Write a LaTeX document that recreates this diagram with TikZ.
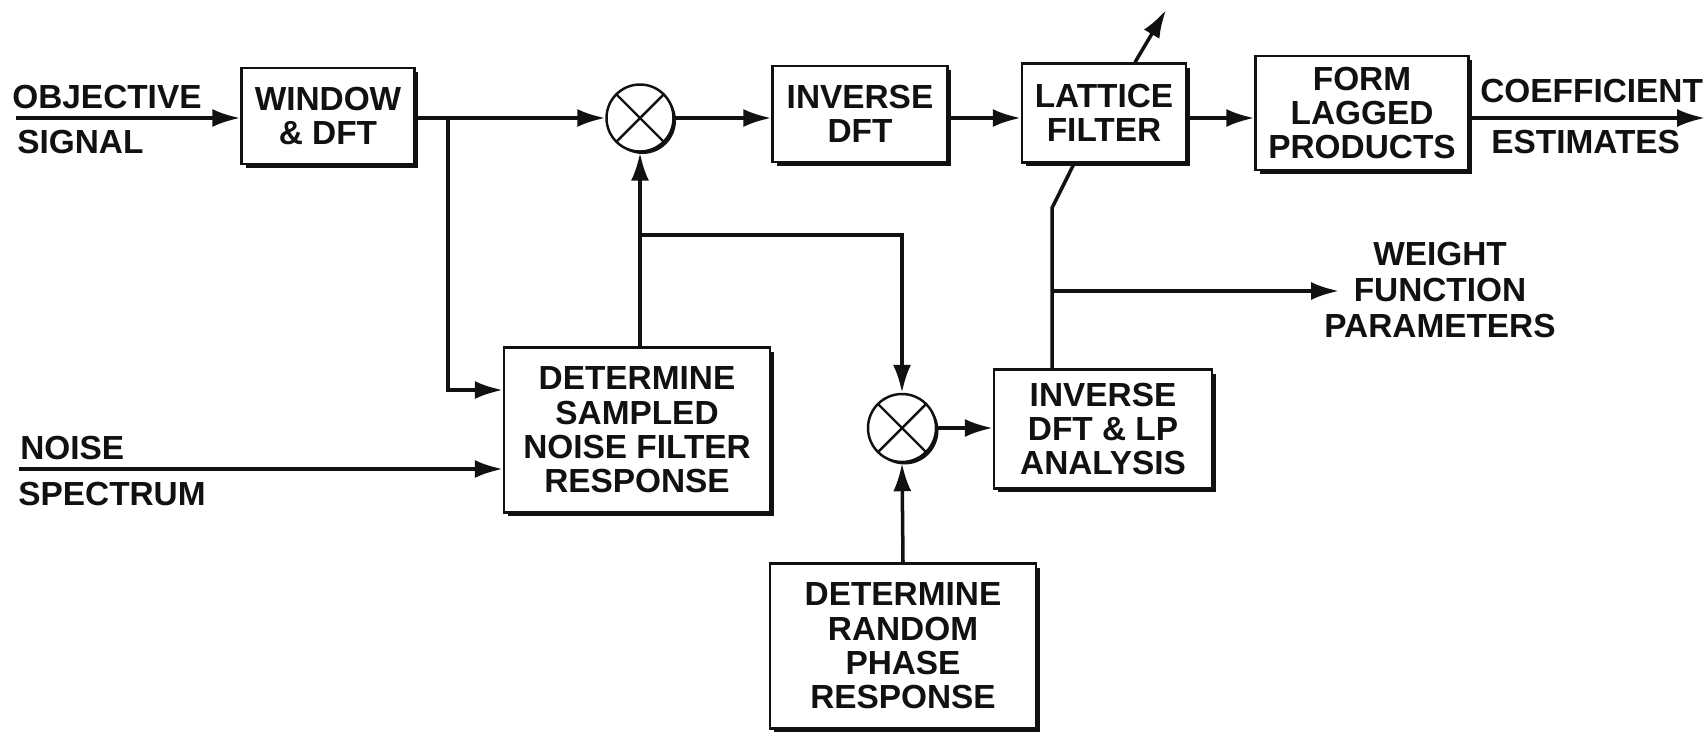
\documentclass[tikz,border=0pt]{standalone}
\usepackage{fontspec}
\setmainfont{Liberation Sans}
\usetikzlibrary{arrows.meta,shadows}
\definecolor{Ink}{HTML}{111111}
\definecolor{Paper}{HTML}{FFFFFF}
\tikzset{
  flowarrow/.style={-{Latex[length=5.6mm,width=3.6mm]},line width=2pt,draw=Ink},
  wire/.style={line width=2pt,draw=Ink},
  blockbase/.style={rectangle,align=center,inner sep=0pt,line width=1.4pt,draw=Ink,fill=Paper,text=Ink,
    font=\fontsize{19}{19.6}\selectfont\bfseries,
    general shadow={fill=Ink,shadow xshift=0.8mm,shadow yshift=-0.8mm}},
  mixer/.style={circle,inner sep=0pt,line width=1.4pt,draw=Ink,fill=Paper,
    general shadow={fill=Ink,shadow xshift=0.5mm,shadow yshift=-0.5mm},
    path picture={\draw[line width=1.4pt,Ink] (path picture bounding box.north west) -- (path picture bounding box.south east)
      (path picture bounding box.north east) -- (path picture bounding box.south west);}},
  sigtext/.style={anchor=base west,inner sep=0pt,text=Ink,font=\fontsize{19}{19.6}\selectfont\bfseries},
}
\begin{document}
\begin{tikzpicture}[x=0.02cm,y=-0.02cm]
    \useasboundingbox[fill=Paper] (0,0) rectangle (1707,734);

    \node[blockbase,minimum width=3.46cm,minimum height=1.92cm] (window) at (328,116) {WINDOW\\\& DFT};
    \node[mixer,minimum size=1.34cm] (mulA) at (640,118) {};
    \node[blockbase,minimum width=3.5cm,minimum height=1.92cm] (invdft) at (860,114) {INVERSE\\DFT};
    \node[blockbase,minimum width=3.28cm,minimum height=1.98cm] (lattice) at (1104,113) {LATTICE\\FILTER};
    \node[blockbase,minimum width=4.26cm,minimum height=2.28cm] (form) at (1362,113) {FORM\\LAGGED\\PRODUCTS};
    \node[blockbase,minimum width=5.32cm,minimum height=3.3cm] (sampled) at (637,430) {DETERMINE\\SAMPLED\\NOISE FILTER\\RESPONSE};
    \node[mixer,minimum size=1.36cm] (mulB) at (902,428) {};
    \node[blockbase,minimum width=4.36cm,minimum height=2.38cm] (invlp) at (1103,429) {INVERSE\\DFT \& LP\\ANALYSIS};
    \node[blockbase,minimum width=5.32cm,minimum height=3.3cm] (random) at (903,646) {DETERMINE\\RANDOM\\PHASE\\RESPONSE};

    \node[sigtext] (objective) at (12,108) {OBJECTIVE};
    \node[sigtext] (signal) at (17,153) {SIGNAL};
    \node[sigtext] (noise) at (20,459) {NOISE};
    \node[sigtext] (spectrum) at (18,505) {SPECTRUM};
    \node[sigtext] (coeff) at (1480,102) {COEFFICIENT};
    \node[sigtext] (estim) at (1491,153) {ESTIMATES};
    \node[align=center,inner sep=0pt,text=Ink,font=\fontsize{19}{20.5}\selectfont\bfseries] (weight) at (1440,290) {WEIGHT\\FUNCTION\\PARAMETERS};

    \coordinate (objin) at (16,118);
    \coordinate (noisein) at (19,469);
    \coordinate (coefout) at (1705,118);
    \coordinate (br1) at (448,118);
    \coordinate (br2) at (640,235);
    \coordinate (kink) at (1052,208);
    \coordinate (wbr) at (1052,291);
    \coordinate (wend) at (1339,291);
    \coordinate (adapt) at (1166,10);

    \draw[flowarrow] (objin) -- (objin -| window.west);
    \draw[flowarrow] (window.east |- mulA) -- (mulA);
    \draw[flowarrow] (mulA) -- (mulA -| invdft.west);
    \draw[flowarrow] (invdft.east |- mulA) -- (mulA -| lattice.west);
    \draw[flowarrow] (lattice.east |- mulA) -- (mulA -| form.west);
    \draw[flowarrow] (form.east |- mulA) -- (coefout);
    \draw[flowarrow] (br1) |- ([yshift=0.8cm]sampled.west);
    \draw[flowarrow] (noisein) -- (noisein -| sampled.west);
    \draw[flowarrow] (sampled.north -| mulA) -- (mulA);
    \draw[flowarrow] (br2) -| (mulB);
    \draw[flowarrow] (random.north) -- (mulB.south);
    \draw[flowarrow] (mulB) -- (mulB -| invlp.west);
    \draw[wire] (kink |- invlp.north) -- (kink) -- ([xshift=-0.6cm]lattice.south);
    \draw[flowarrow] (wbr) -- (wend);
    \draw[flowarrow] ([xshift=0.62cm]lattice.north) -- (adapt);
  \end{tikzpicture}
\end{document}
